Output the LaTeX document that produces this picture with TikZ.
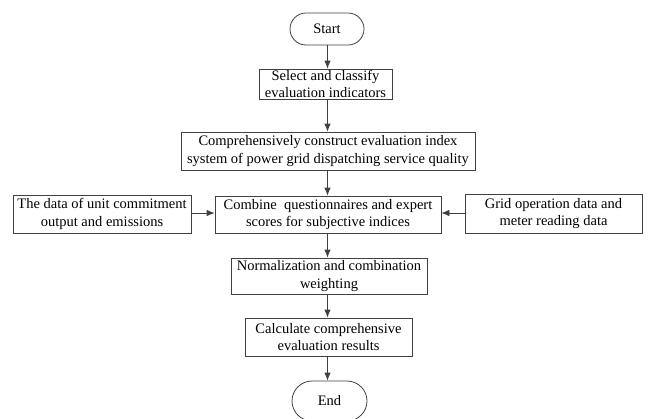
\documentclass[tikz,border=0pt]{standalone}
\usepackage{fontspec}
\setmainfont{Liberation Serif}
\usetikzlibrary{arrows.meta}
\begin{document}
\begin{tikzpicture}[x=1pt,y=-1pt,
  line/.style={draw=black!75, line width=0.8pt},
  box/.style={line, rectangle, inner sep=0pt, align=center, font=\fontsize{14.5}{17.5}\selectfont},
  term/.style={box, rounded corners=16pt},
  arr/.style={line, -{Latex[length=8pt,width=6.5pt]}}]
\useasboundingbox (0,0) rectangle (648,418);
\node[term, minimum width=74pt, minimum height=32pt] (start) at (327,29) {Start};
\node[box, minimum width=133pt, minimum height=30pt] (select) at (325.5,84) {Select and classify\\evaluation indicators};
\node[box, minimum width=294pt, minimum height=38pt] (comp) at (328,151) {Comprehensively construct evaluation index\\system of power grid dispatching service quality};
\node[box, minimum width=226pt, minimum height=37pt] (comb) at (328,214.5) {Combine\ \ questionnaires and expert\\scores for subjective indices};
\node[box, minimum width=178pt, minimum height=38pt] (left) at (102,214) {The data of unit commitment\\output and emissions};
\node[box, minimum width=177pt, minimum height=39pt] (right) at (553.5,213.5) {Grid operation data and\\meter reading data};
\node[box, minimum width=196pt, minimum height=36pt] (norm) at (329,276) {Normalization and combination\\weighting};
\node[box, minimum width=167pt, minimum height=38pt] (calc) at (328.5,337) {Calculate comprehensive\\evaluation results};
\node[term, rounded corners=20pt, minimum width=75pt, minimum height=40pt] (end) at (329.5,401) {End};
\coordinate (cx) at (327.5,0);
\draw[arr] (cx |- start.south) -- (cx |- select.north);
\draw[arr] (cx |- select.south) -- (cx |- comp.north);
\draw[arr] (cx |- comp.south) -- (cx |- comb.north);
\draw[arr] (cx |- comb.south) -- (cx |- norm.north);
\draw[arr] (cx |- norm.south) -- (cx |- calc.north);
\draw[arr] (cx |- calc.south) -- (cx |- end.north);
\draw[arr] (left.east |- 0,213) -- (comb.west |- 0,213);
\draw[arr] (right.west |- 0,213) -- (comb.east |- 0,213);
\end{tikzpicture}
\end{document}
